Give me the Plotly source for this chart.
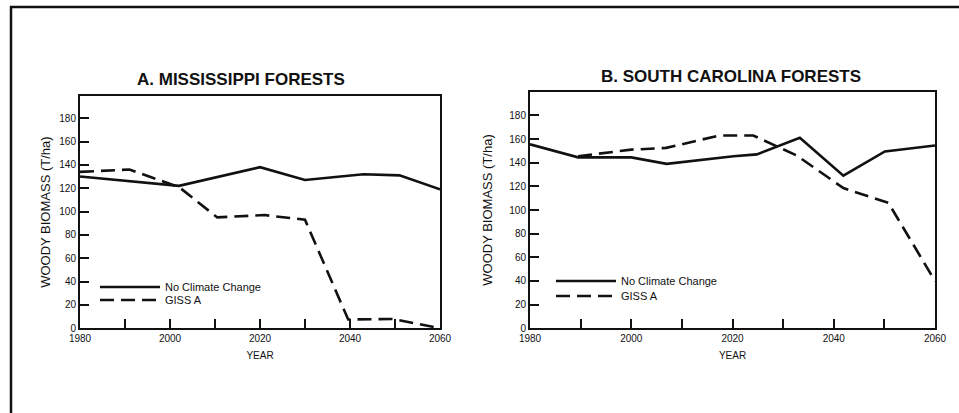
import plotly.graph_objects as go

# ---- data ----
ms_ncc_year = [1980, 2002, 2020, 2030, 2043, 2051, 2060]
ms_ncc_val = [130, 122, 138, 127, 132, 131, 119]
ms_giss_year = [1980, 1991, 2002, 2010.5, 2021, 2030, 2039.6, 2049.6, 2060]
ms_giss_val = [134, 136, 121, 95, 97, 93, 7.5, 8, 0]

sc_ncc_year = [1980, 1989.5, 2000, 2007, 2020.2, 2024.8, 2033.3, 2041.9, 2050.1, 2060]
sc_ncc_val = [155.5, 144.5, 144.5, 139, 145.5, 147, 161, 129, 149.5, 154.5]
sc_giss_year = [1989.5, 2000, 2006.9, 2017.4, 2024.1, 2032.7, 2041.9, 2050.8, 2060]
sc_giss_val = [145.5, 151, 152.5, 163, 163, 146, 118.5, 106, 40]

series_names = ["No Climate Change", "GISS A"]
panel_titles = ["A. MISSISSIPPI FORESTS", "B. SOUTH CAROLINA FORESTS"]
x_tickvals = [1980, 1990, 2000, 2010, 2020, 2030, 2040, 2050, 2060]
x_ticktext = ["1980", "", "2000", "", "2020", "", "2040", "", "2060"]
y_tickvals = [0, 20, 40, 60, 80, 100, 120, 140, 160, 180]
y_title = "WOODY BIOMASS (T/ha)"
x_title = "YEAR"

W, H = 959, 413
FONT = "Liberation Sans, Arial, Helvetica, sans-serif"
INK = "#111111"

def fx(px):
    return px / W

def fy(py):
    return (H - py) / H

fig = go.Figure()

line_solid = dict(color=INK, width=2.6)
line_dash = dict(color=INK, width=2.6, dash="14px,7px")

fig.add_trace(go.Scatter(x=ms_ncc_year, y=ms_ncc_val, mode="lines", name=series_names[0],
                         line=line_solid, xaxis="x", yaxis="y", legend="legend"))
fig.add_trace(go.Scatter(x=ms_giss_year, y=ms_giss_val, mode="lines", name=series_names[1],
                         line=line_dash, xaxis="x", yaxis="y", legend="legend2"))
fig.add_trace(go.Scatter(x=sc_ncc_year, y=sc_ncc_val, mode="lines", name=series_names[0],
                         line=line_solid, xaxis="x2", yaxis="y2", legend="legend3"))
fig.add_trace(go.Scatter(x=sc_giss_year, y=sc_giss_val, mode="lines", name=series_names[1],
                         line=line_dash, xaxis="x2", yaxis="y2", legend="legend4"))

def xaxis(domain, anchor):
    return dict(domain=domain, anchor=anchor, range=[1980, 2060], automargin=False,
                tickvals=x_tickvals, ticktext=x_ticktext, ticks="inside", ticklen=9,
                tickwidth=1.5, tickcolor=INK, showline=True, linecolor=INK, linewidth=2,
                mirror=True, showgrid=False, zeroline=False,
                tickfont=dict(family=FONT, size=10, color=INK),
                title=dict(text=x_title, font=dict(family=FONT, size=10, color=INK), standoff=9))

def yaxis(domain, anchor, top, standoff):
    return dict(domain=domain, anchor=anchor, range=[0, top], automargin=False,
                tickvals=y_tickvals, ticks="inside", ticklen=9,
                tickwidth=1.5, tickcolor=INK, showline=True, linecolor=INK, linewidth=2,
                mirror=True, showgrid=False, zeroline=False,
                tickfont=dict(family=FONT, size=10, color=INK),
                title=dict(text=y_title, font=dict(family=FONT, size=13, color=INK), standoff=standoff))

def legend(xpx, ypx):
    return dict(x=fx(xpx), y=fy(ypx), xanchor="left", yanchor="middle",
                bgcolor="rgba(0,0,0,0)", itemwidth=60, borderwidth=0,
                font=dict(family=FONT, size=11, color=INK))

fig.update_layout(
    width=W, height=H, margin=dict(l=0, r=0, t=0, b=0, pad=0, autoexpand=False),
    paper_bgcolor="white", plot_bgcolor="white",
    xaxis=xaxis([fx(80), fx(440)], "y"),
    yaxis=yaxis([fy(328.3), fy(96)], "x", 199, 6),
    xaxis2=xaxis([fx(530), fx(935)], "y2"),
    yaxis2=yaxis([fy(328.3), fy(91.7)], "x2", 200, 14),
    legend=legend(95, 287),
    legend2=legend(95, 300),
    legend3=legend(551, 281),
    legend4=legend(551, 296),
    showlegend=True,
    annotations=[
        dict(text="<b>" + panel_titles[0] + "</b>", x=fx(241), y=fy(79), xref="paper", yref="paper",
             showarrow=False, xanchor="center", yanchor="middle",
             font=dict(family=FONT, size=17, color=INK)),
        dict(text="<b>" + panel_titles[1] + "</b>", x=fx(731), y=fy(76), xref="paper", yref="paper",
             showarrow=False, xanchor="center", yanchor="middle",
             font=dict(family=FONT, size=17, color=INK)),
    ],
    shapes=[
        dict(type="line", xref="paper", yref="paper", x0=fx(10), x1=1, y0=fy(7), y1=fy(7),
             line=dict(color=INK, width=2.5)),
        dict(type="line", xref="paper", yref="paper", x0=fx(11), x1=fx(11), y0=fy(6), y1=0,
             line=dict(color=INK, width=2.5)),
    ],
)

fig.write_html("out.html", config={"displayModeBar": False})
